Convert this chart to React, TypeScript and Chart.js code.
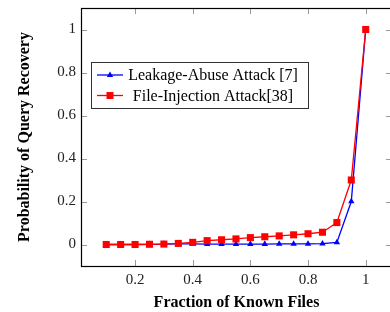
import React, { useEffect, useRef } from "react";
import { Chart, registerables } from "chart.js";

Chart.register(...registerables);

const fractions = [0.1, 0.15, 0.2, 0.25, 0.3, 0.35, 0.4, 0.45, 0.5, 0.55, 0.6, 0.65, 0.7, 0.75, 0.8, 0.85, 0.9, 0.95, 1.0];
const leakageAbuse = [0, 0, 0, 0.001, 0.002, 0.003, 0.003, 0.002, 0.002, 0.002, 0.002, 0.002, 0.003, 0.003, 0.003, 0.004, 0.01, 0.2, 1.0];
const fileInjection = [0, 0, 0, 0.001, 0.002, 0.005, 0.01, 0.018, 0.022, 0.026, 0.032, 0.036, 0.04, 0.045, 0.05, 0.057, 0.102, 0.3, 1.0];
const xTicks = [0.2, 0.4, 0.6, 0.8, 1];
const yTicks = [0, 0.2, 0.4, 0.6, 0.8, 1];
const xTickLabels = ["0.2", "0.4", "0.6", "0.8", "1"];
const yTickLabels = ["0", "0.2", "0.4", "0.6", "0.8", "1"];
const seriesNames = ["Leakage-Abuse Attack [7]", "File-Injection Attack[38]"];

const SERIF = "'Liberation Serif', 'Times New Roman', serif";

const framePlugin = {
  id: "frame",
  afterDatasetsDraw(chart: any) {
    const { ctx, chartArea: a, scales } = chart;
    const t = 6;
    ctx.save();
    ctx.strokeStyle = "#9a9a9a";
    ctx.lineWidth = 1;
    ctx.beginPath();
    for (const v of xTicks) {
      const x = Math.round(scales.x.getPixelForValue(v)) + 0.5;
      ctx.moveTo(x, a.bottom);
      ctx.lineTo(x, a.bottom - t);
      ctx.moveTo(x, a.top);
      ctx.lineTo(x, a.top + t);
    }
    for (const v of yTicks) {
      const y = Math.round(scales.y.getPixelForValue(v)) + 0.5;
      ctx.moveTo(a.left, y);
      ctx.lineTo(a.left + t, y);
      ctx.moveTo(a.right, y);
      ctx.lineTo(a.right - t, y);
    }
    ctx.stroke();
    ctx.strokeStyle = "#000";
    ctx.lineWidth = 1.2;
    ctx.strokeRect(a.left + 0.5, a.top + 0.5, a.right - a.left, a.bottom - a.top);
    ctx.restore();
  },
  afterDraw(chart: any) {
    const { ctx } = chart;
    const bx = 91, by = 62, bw = 217, bh = 46;
    ctx.save();
    ctx.fillStyle = "#fff";
    ctx.fillRect(bx, by, bw, bh);
    ctx.strokeStyle = "#333";
    ctx.lineWidth = 1;
    ctx.strokeRect(bx + 0.5, by + 0.5, bw, bh);
    const rows = [75, 95.5];
    const colors = ["#0000ff", "#ff0000"];
    rows.forEach((ry, i) => {
      ctx.strokeStyle = colors[i];
      ctx.fillStyle = colors[i];
      ctx.lineWidth = 1.3;
      ctx.beginPath();
      ctx.moveTo(97, ry);
      ctx.lineTo(123, ry);
      ctx.stroke();
      ctx.beginPath();
      if (i === 0) {
        ctx.moveTo(110, ry - 3.5);
        ctx.lineTo(113.2, ry + 2);
        ctx.lineTo(106.8, ry + 2);
        ctx.closePath();
      } else {
        ctx.rect(106.5, ry - 3.5, 7, 7);
      }
      ctx.fill();
      ctx.fillStyle = "#000";
      ctx.font = `16px ${SERIF}`;
      ctx.textAlign = "center";
      ctx.textBaseline = "middle";
      ctx.fillText(seriesNames[i], 213, ry + 1);
    });
    ctx.restore();
  },
};

export default function App() {
  const ref = useRef<HTMLCanvasElement>(null);
  useEffect(() => {
    if (!ref.current) return;
    const chart = new Chart(ref.current, {
      type: "line",
      data: {
        datasets: [
          {
            label: seriesNames[0],
            data: fractions.map((x, i) => ({ x, y: leakageAbuse[i] })),
            borderColor: "#0000ff",
            backgroundColor: "#0000ff",
            borderWidth: 1.3,
            pointStyle: "triangle",
            pointRadius: 3.7,
            pointBorderWidth: 0,
            order: 2,
          },
          {
            label: seriesNames[1],
            data: fractions.map((x, i) => ({ x, y: fileInjection[i] })),
            borderColor: "#ff0000",
            backgroundColor: "#ff0000",
            borderWidth: 1.3,
            pointStyle: "rect",
            pointRadius: 5,
            pointBorderWidth: 0,
            order: 1,
          },
        ],
      },
      options: {
        animation: false,
        responsive: false,
        devicePixelRatio: 1,
        layout: { autoPadding: false, padding: { top: 8, right: 0, left: 0, bottom: 0 } },
        plugins: { legend: { display: false }, tooltip: { enabled: false } },
        scales: {
          x: {
            type: "linear",
            min: 0.0125,
            max: 1.0912,
            afterFit: (s: any) => { s.height = 46; s.paddingLeft = 0; s.paddingRight = 0; },
            afterBuildTicks: (s: any) => { s.ticks = xTicks.map((v) => ({ value: v })); },
            grid: { display: false, drawTicks: false },
            border: { display: false },
            ticks: {
              padding: 5,
              color: "#222",
              font: { family: SERIF, size: 15 },
              callback: (v: any) => xTickLabels[xTicks.indexOf(Number(v))] ?? "",
            },
            title: {
              display: true,
              text: "Fraction of Known Files",
              color: "#000",
              font: { family: SERIF, size: 16, weight: "bold" },
              padding: { top: 2.4, bottom: 0 },
            },
          },
          y: {
            type: "linear",
            min: -0.1,
            max: 1.1,
            afterFit: (s: any) => { s.width = 81; s.paddingTop = 0; s.paddingBottom = 0; },
            afterBuildTicks: (s: any) => { s.ticks = yTicks.map((v) => ({ value: v })); },
            grid: { display: false, drawTicks: false },
            border: { display: false },
            ticks: {
              padding: 5,
              color: "#222",
              font: { family: SERIF, size: 15 },
              callback: (v: any) => yTickLabels[yTicks.indexOf(Number(v))] ?? "",
            },
            title: {
              display: true,
              text: "Probability of Query Recovery",
              color: "#000",
              font: { family: SERIF, size: 16, weight: "bold" },
              padding: { top: 15.4, bottom: 0 },
            },
          },
        },
      },
      plugins: [framePlugin],
    });
    return () => chart.destroy();
  }, []);
  return (
    <div style={{ position: "absolute", left: 0, top: 0, width: 390, height: 312, overflow: "hidden", background: "#fff" }}>
      <canvas ref={ref} width={392} height={312} style={{ display: "block" }} />
    </div>
  );
}
